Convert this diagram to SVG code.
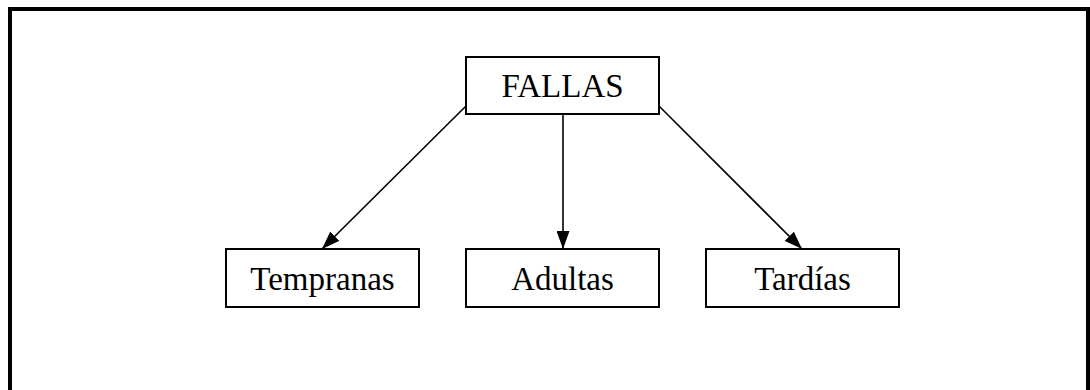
<svg xmlns="http://www.w3.org/2000/svg" width="1090" height="390" viewBox="0 0 1090 390">
  <style>
    .box { fill: #ffffff; stroke: #000000; stroke-width: 2; }
    .label { font-family: "Liberation Serif", "Times New Roman", serif; font-size: 33px; fill: #000000; text-anchor: middle; }
    .edge { stroke: #000000; stroke-width: 1.6; fill: none; marker-end: url(#arrow); }
  </style>
  <defs>
    <marker id="arrow" markerWidth="18" markerHeight="13" refX="18" refY="6.5" orient="auto" markerUnits="userSpaceOnUse">
      <path d="M0,0 L18,6.5 L0,13 Z" fill="#000000"/>
    </marker>
  </defs>
  <rect width="1090" height="390" fill="#ffffff"/>
  <!-- outer frame -->
  <rect x="10" y="9" width="1078" height="400" fill="none" stroke="#000000" stroke-width="4"/>

  <g id="connectors">
    <line class="edge" x1="466" y1="106" x2="322" y2="249"/>
    <line class="edge" x1="563" y1="114" x2="563" y2="249"/>
    <line class="edge" x1="659" y1="106" x2="802" y2="249"/>
  </g>

  <g id="fallas">
    <rect class="box" x="466" y="57" width="193" height="57"/>
    <text class="label" x="562.5" y="97">FALLAS</text>
  </g>
  <g id="tempranas">
    <rect class="box" x="226" y="249" width="193" height="58"/>
    <text class="label" x="322.5" y="290">Tempranas</text>
  </g>
  <g id="adultas">
    <rect class="box" x="466" y="249" width="193" height="58"/>
    <text class="label" x="562.5" y="290">Adultas</text>
  </g>
  <g id="tardias">
    <rect class="box" x="706" y="249" width="193" height="58"/>
    <text class="label" x="802.5" y="290">Tardías</text>
  </g>
</svg>
